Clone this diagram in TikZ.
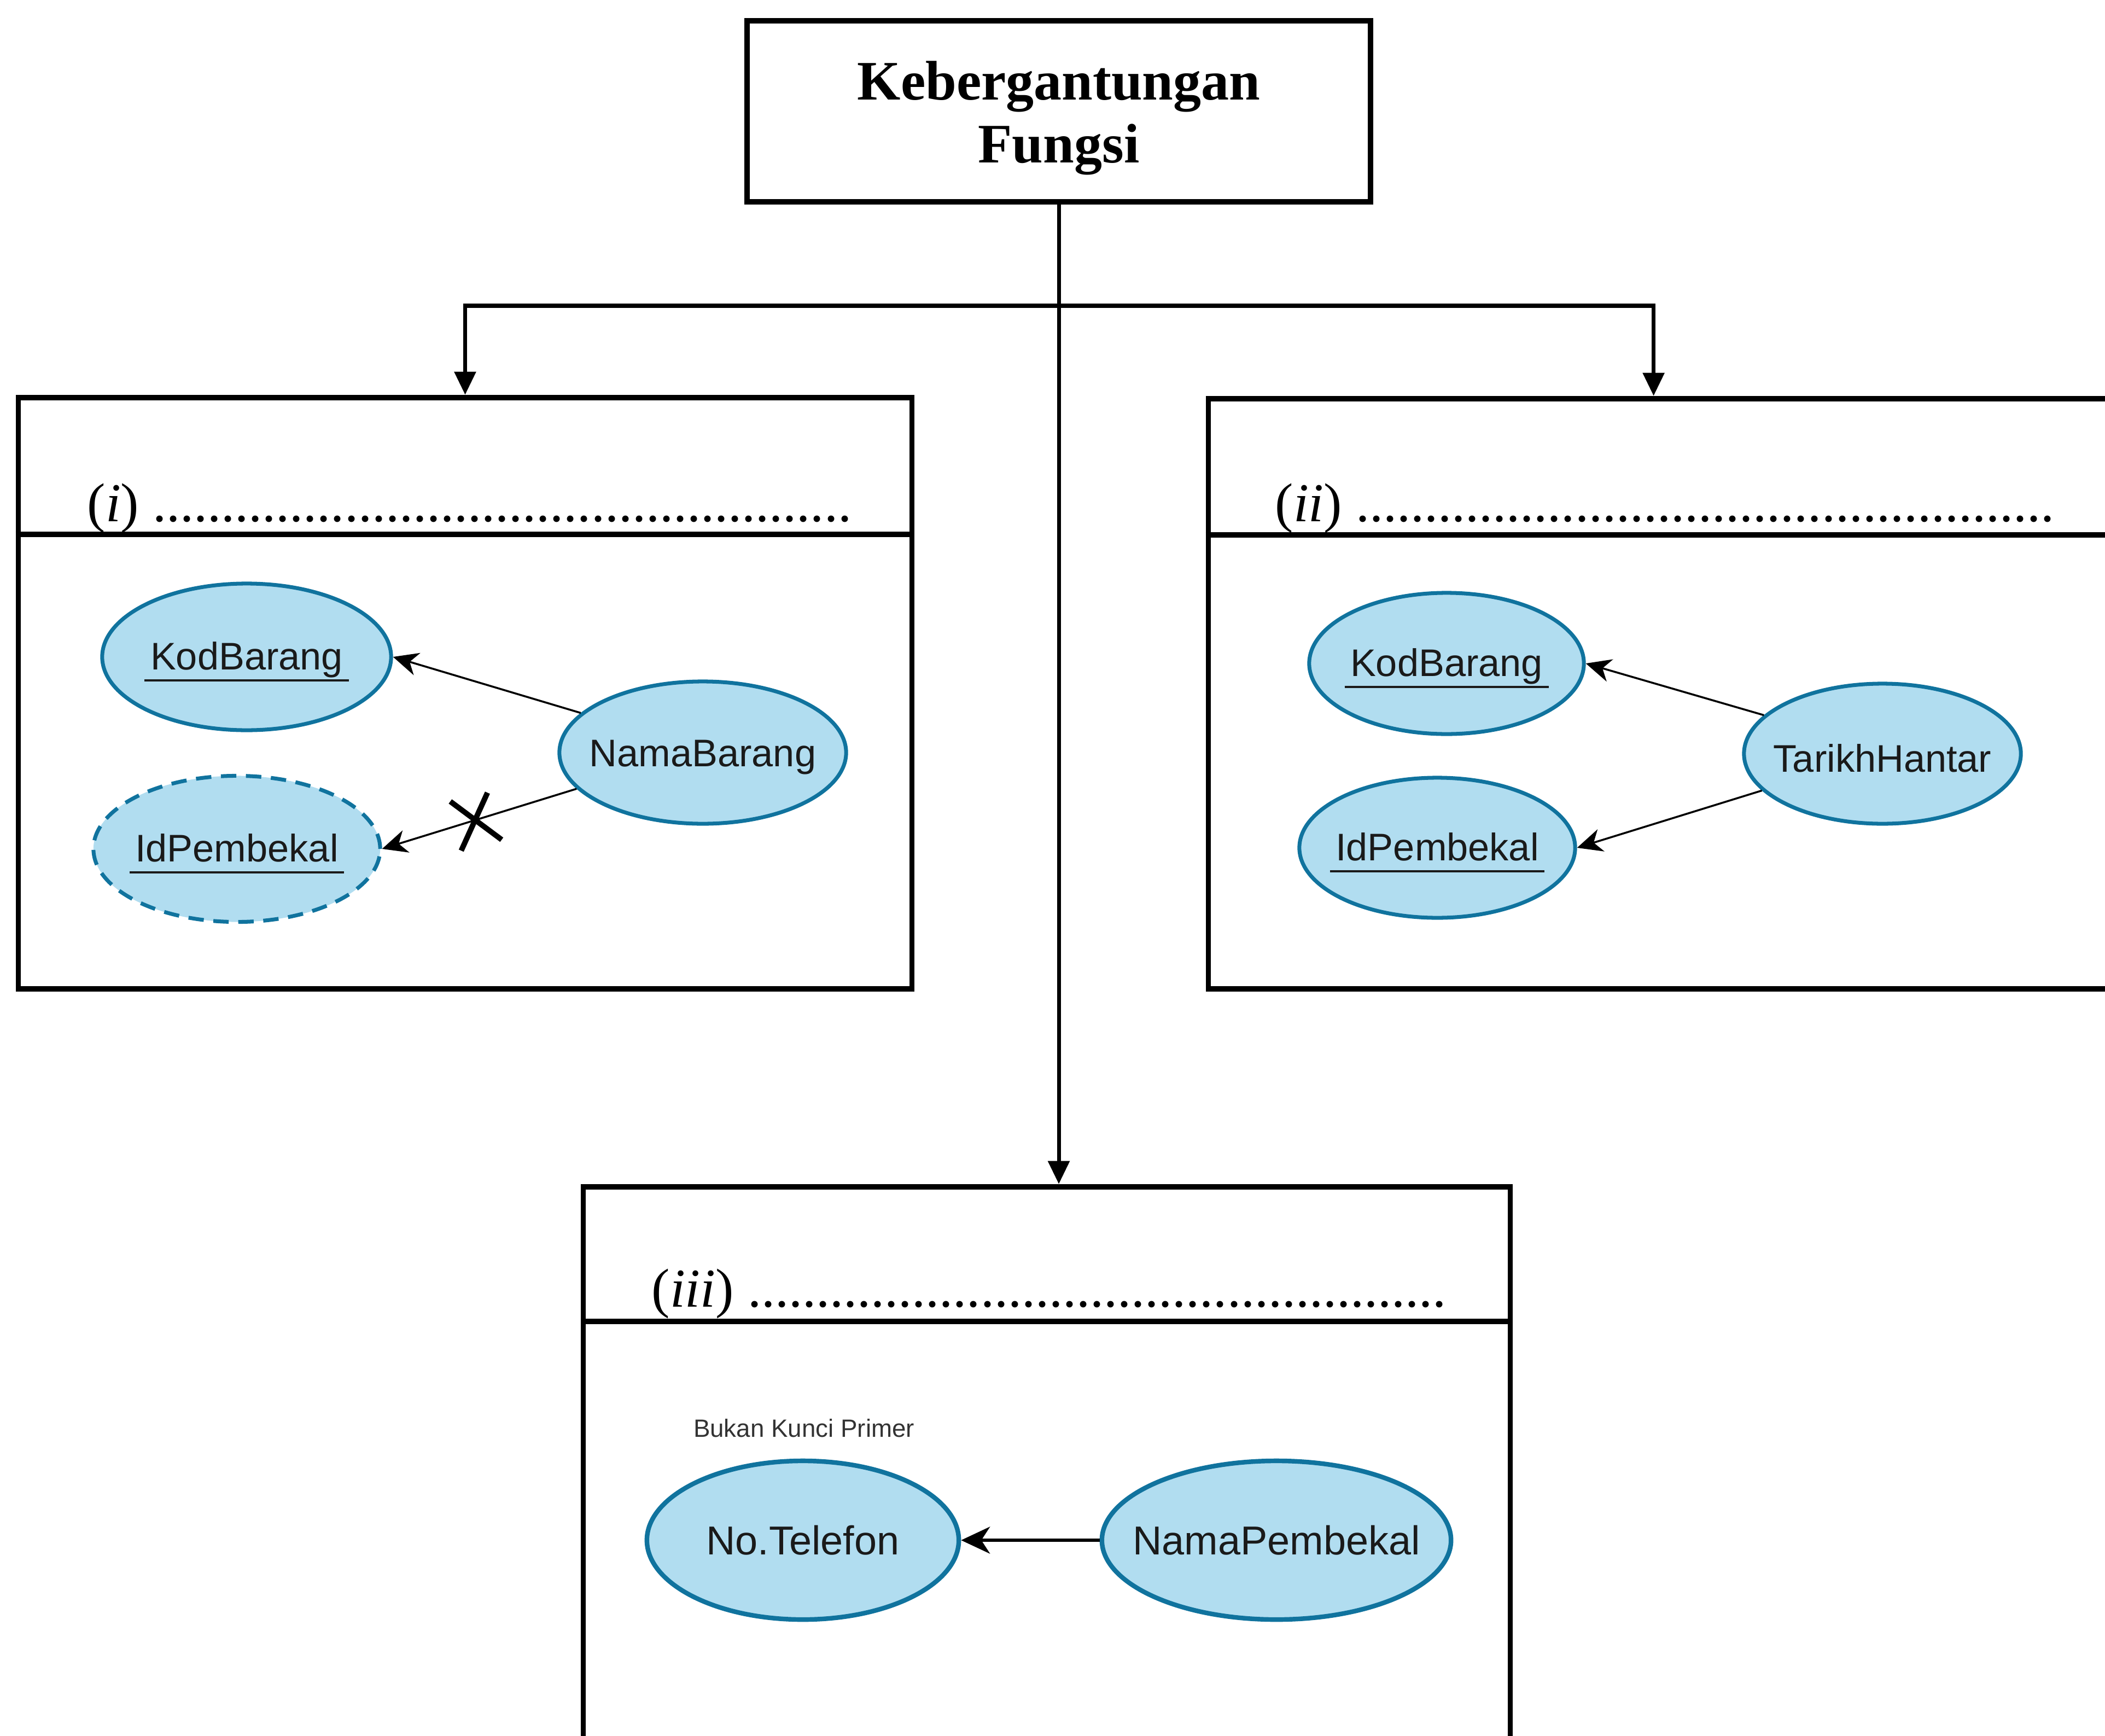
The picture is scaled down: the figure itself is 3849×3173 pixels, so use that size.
\documentclass[tikz,border=0pt]{standalone}
\usepackage{fontspec}
\setmainfont{Liberation Serif}
\newfontfamily\arialfont{Liberation Sans}
\usetikzlibrary{shapes.geometric,arrows.meta,calc}
\definecolor{efill}{HTML}{B1DDF0}
\definecolor{edraw}{HTML}{10739E}
\definecolor{etext}{HTML}{1A1A1A}
\definecolor{notegray}{HTML}{333333}
\newcommand\ulkey[1]{\setbox0\hbox{#1}\rlap{\kern-3pt\rule[-6pt]{\dimexpr\wd0+6pt\relax}{1.1pt}}\box0}
\newcommand\ctext[1]{\makebox[0pt][c]{\raisebox{-2.5pt}[\height][\depth]{#1}}}
\newcommand\btext[1]{\makebox[0pt][c]{#1}}
\newcommand\dotrow{..........}
\newcommand\dotline{\dotrow\dotrow\dotrow\dotrow\dotrow.}
\begin{document}
\begin{tikzpicture}[x=0.01cm,y=-0.01cm,
  frame/.style={draw=black, line width=2.8pt, rectangle, inner sep=0pt},
  divider/.style={draw=black, line width=2.8pt},
  conn/.style={draw=black, line width=2pt, -{Triangle[length=12pt,width=11pt]}},
  attr/.style={ellipse, draw=edraw, fill=efill, line width=2pt, inner sep=0pt, text=etext, font=\arialfont\fontsize{20}{24}\selectfont},
  bigattr/.style={attr, line width=2.4pt, font=\arialfont\fontsize{21}{25}\selectfont},
  dashattr/.style={attr, dash pattern=on 8pt off 5pt},
  dep/.style={draw=black, line width=1pt, -{Stealth[length=13pt,width=12pt,inset=4pt]}},
  bigdep/.style={draw=black, line width=1.5pt, -{Stealth[length=15pt,width=14pt,inset=4.5pt]}},
  xmark/.style={draw=black, line width=2.8pt},
  lbl/.style={anchor=base west, inner sep=0pt, font=\fontsize{28.5}{32}\selectfont},
  titletext/.style={font=\bfseries\fontsize{29}{32.7}\selectfont, align=center, inner sep=0pt},
  note/.style={font=\arialfont\fontsize{13}{15}\selectfont, text=notegray, inner sep=0pt}
]
\useasboundingbox (0,0) rectangle (3849,3173);
\clip (0,0) rectangle (3849,3173);

% title
\node[frame, minimum width=11.40cm, minimum height=3.31cm] (title) at (1936,203.5) {};
\node[titletext] (titletxt) at (1936,216) {Kebergantungan\\Fungsi};

% boxes
\node[frame, minimum width=16.33cm, minimum height=10.81cm] (boxi) at (850.5,1267.5) {};
\draw[divider] (boxi.west |- 0,977) -- (boxi.east |- 0,977);

\node[frame, minimum width=17.00cm, minimum height=10.79cm] (boxii) at (3060,1268.5) {};
\draw[divider] (boxii.west |- 0,978) -- (boxii.east |- 0,978);
\coordinate (iitop) at ($(boxii.north west)+(819,0)$);

\node[frame, minimum width=16.94cm, minimum height=10.50cm] (boxiii) at (1914,2695) {};
\draw[divider] (boxiii.west |- 0,2416) -- (boxiii.east |- 0,2416);

% connectors
\coordinate (split) at (title.south |- 0,559);
\draw[conn] (title.south) -- (title.south |- boxiii.north);
\draw[conn] (split) -| (boxi.north);
\draw[conn] (split) -| (iitop);

% labels
\node[lbl] (lbli) at (159,953) {(\textit{i}) \dotline};
\node[lbl] (lblii) at (2331,953) {(\textit{ii}) \dotline};
\node[lbl] (lbliii) at (1191,2389) {(\textit{iii}) \dotline};

% box (i)
\node[attr, minimum width=5.28cm, minimum height=2.68cm] (kb1) at (451,1201) {\ctext{\ulkey{KodBarang}}};
\node[dashattr, minimum width=5.24cm, minimum height=2.67cm] (ip1) at (433,1552) {\ctext{\ulkey{IdPembekal}}};
\node[attr, minimum width=5.24cm, minimum height=2.60cm] (nb) at (1285,1376) {\ctext{NamaBarang}};
\draw[dep] (nb.162) -- (kb1.east);
\draw[dep] (nb.196) -- (ip1.east);
\coordinate (xm) at ($(nb.196)!0.52!(ip1.east)$);
\draw[xmark] ($(xm)+(-46,-34)$) -- ($(xm)+(48,36)$);
\draw[xmark] ($(xm)+(22,-50)$) -- ($(xm)+(-26,56)$);

% box (ii)
\node[attr, minimum width=5.02cm, minimum height=2.58cm] (kb2) at (2645,1213) {\ctext{\ulkey{KodBarang}}};
\node[attr, minimum width=5.04cm, minimum height=2.56cm] (ip2) at (2628,1550) {\ctext{\ulkey{IdPembekal}}};
\node[attr, minimum width=5.06cm, minimum height=2.56cm] (th) at (3442,1378) {\ctext{TarikhHantar}};
\draw[dep] (th.162) -- (kb2.east);
\draw[dep] (th.197) -- (ip2.east);

% box (iii)
\node[note] (bkp) at (1470,2611) {Bukan Kunci Primer};
\node[bigattr, minimum width=5.70cm, minimum height=2.90cm] (nt) at (1468,2816) {\btext{No.Telefon}};
\node[bigattr, minimum width=6.38cm, minimum height=2.90cm] (np) at (2334,2816) {\btext{NamaPembekal}};
\draw[bigdep] (np.west) -- (nt.east);
\end{tikzpicture}
\end{document}
